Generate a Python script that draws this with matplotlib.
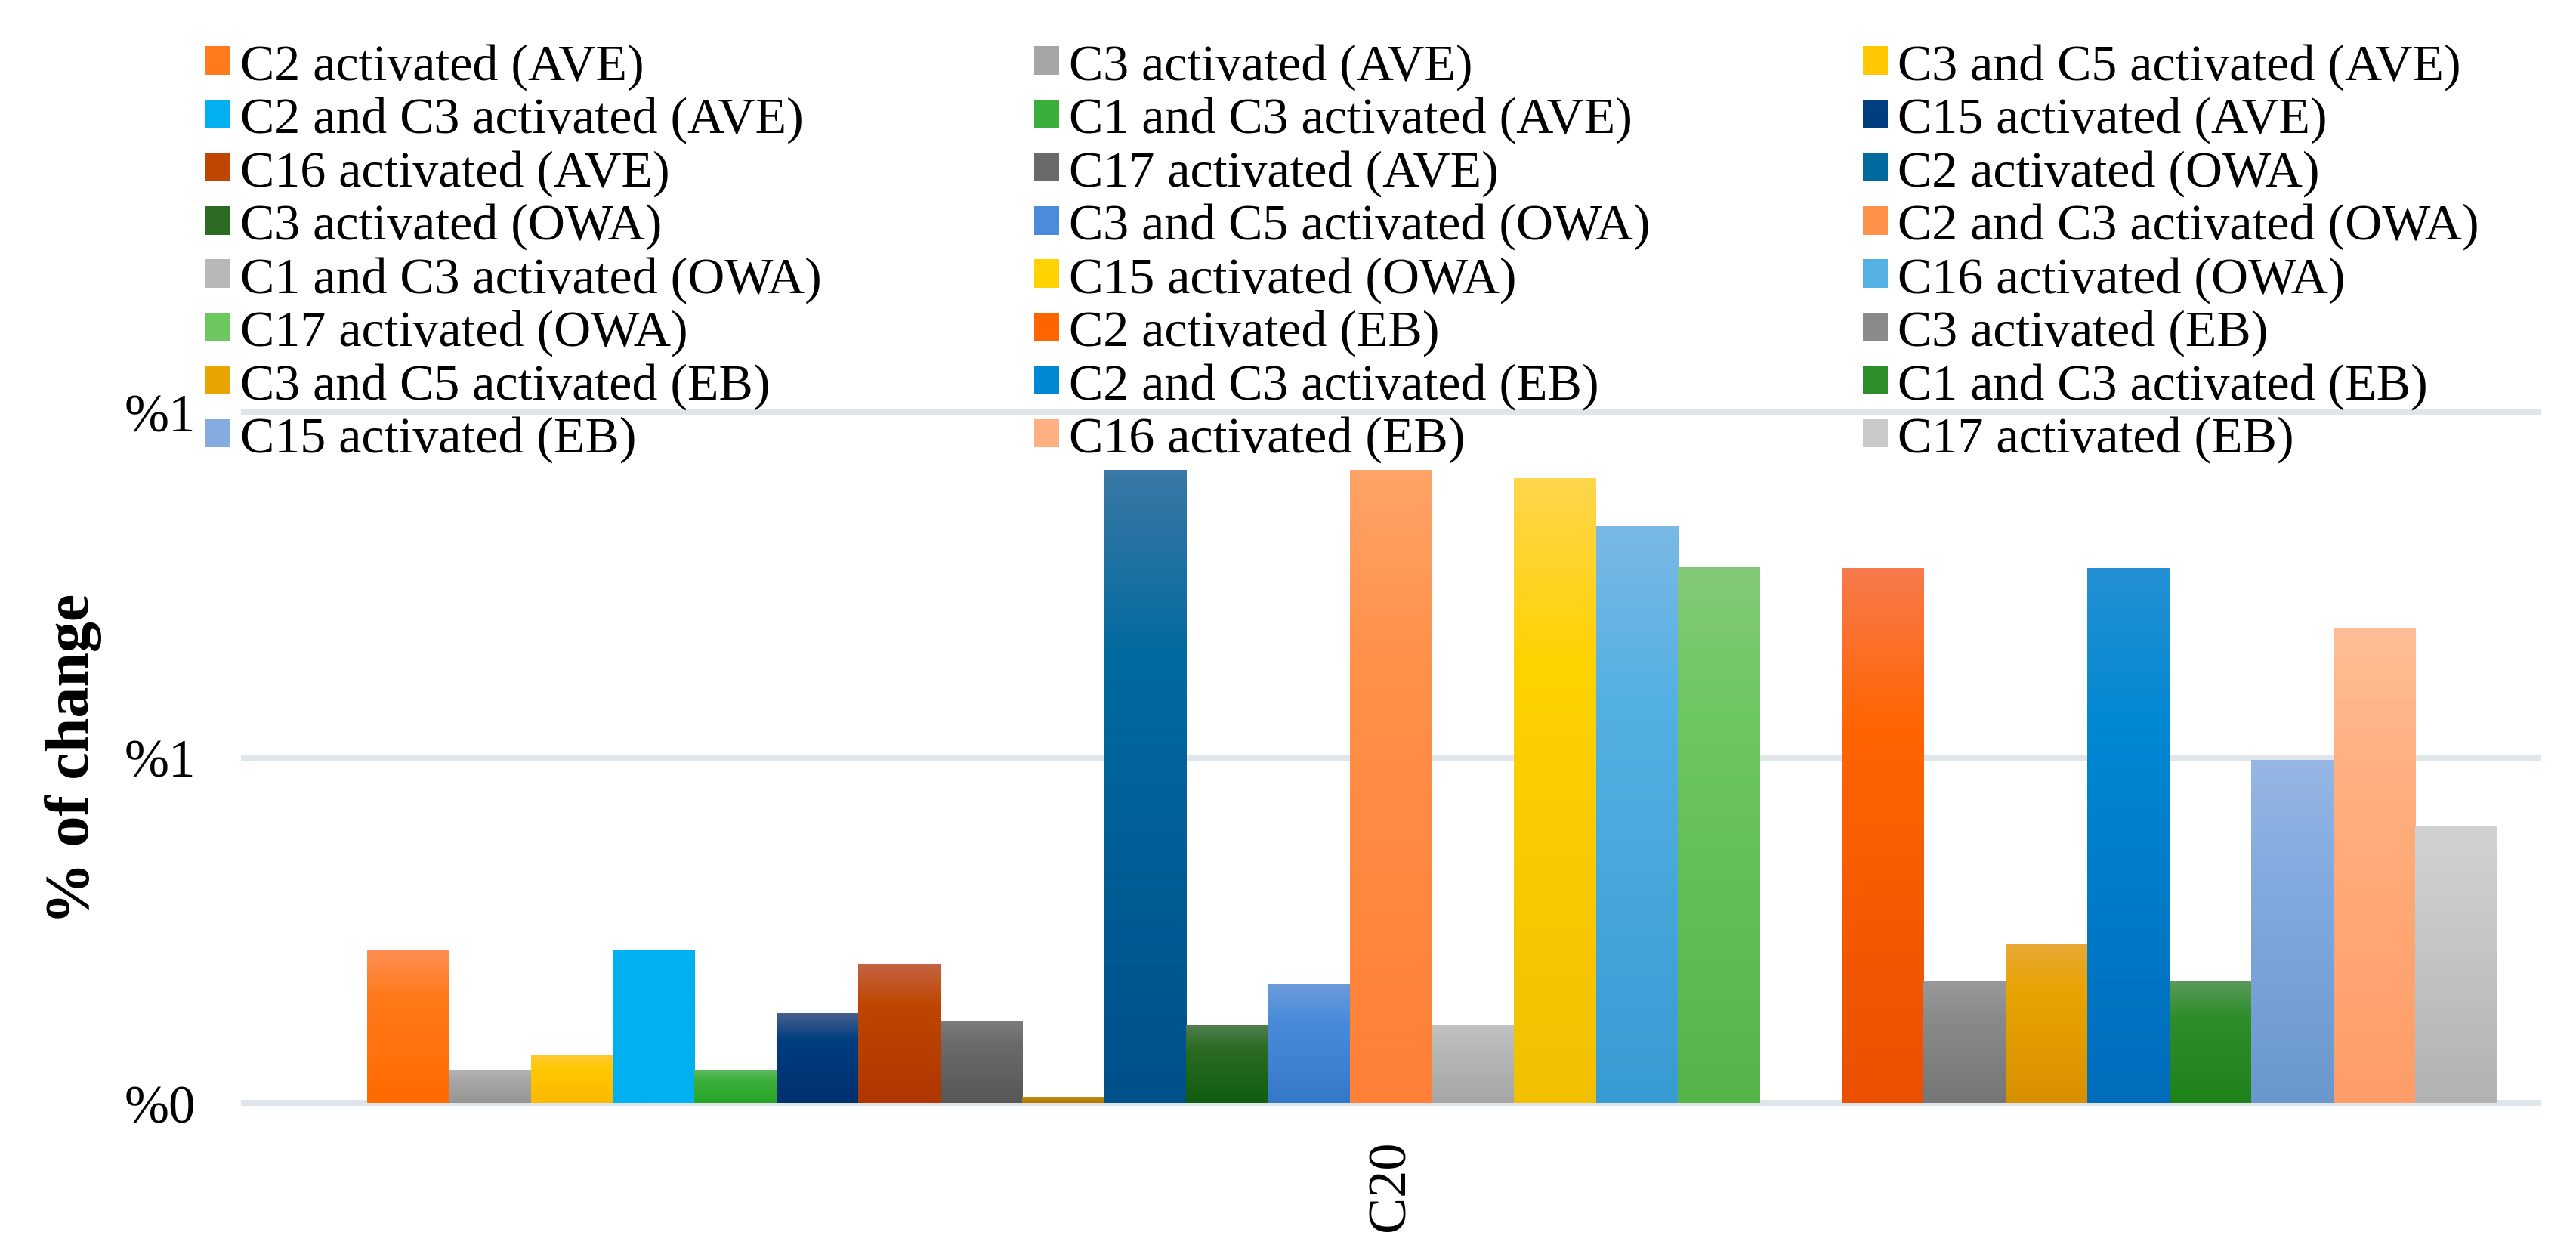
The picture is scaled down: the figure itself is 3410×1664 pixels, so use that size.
import numpy as np
import matplotlib.pyplot as plt
from matplotlib.colors import LinearSegmentedColormap
from matplotlib.patches import Patch

plt.rcParams['font.family'] = ['Liberation Serif', 'DejaVu Serif']

# Data: one category, 27 series (three unlabelled ones have no legend entry)
category = 'C20'
series_labels = [
    '',
    'C2 activated (AVE)', 'C3 activated (AVE)', 'C3 and C5 activated (AVE)',
    'C2 and C3 activated (AVE)', 'C1 and C3 activated (AVE)', 'C15 activated (AVE)',
    'C16 activated (AVE)', 'C17 activated (AVE)',
    '',
    'C2 activated (OWA)', 'C3 activated (OWA)', 'C3 and C5 activated (OWA)',
    'C2 and C3 activated (OWA)', 'C1 and C3 activated (OWA)', 'C15 activated (OWA)',
    'C16 activated (OWA)', 'C17 activated (OWA)',
    '',
    'C2 activated (EB)', 'C3 activated (EB)', 'C3 and C5 activated (EB)',
    'C2 and C3 activated (EB)', 'C1 and C3 activated (EB)', 'C15 activated (EB)',
    'C16 activated (EB)', 'C17 activated (EB)',
]
series_values = [
    0.0,
    0.221, 0.047, 0.068, 0.221, 0.047, 0.130, 0.201, 0.119,
    0.008,
    0.916, 0.112, 0.171, 0.916, 0.112, 0.904, 0.835, 0.776,
    0.0,
    0.774, 0.177, 0.230, 0.774, 0.177, 0.496, 0.688, 0.401,
]
y_ticks = [0, 0.5, 1.0]
y_tick_labels = ['%0', '%1', '%1']

# gradient colours for each bar (top / middle / bottom)
grad_top = ['#FFFFFF',
            '#FF8F55', '#B2B2B2', '#FFC933', '#00B0F0', '#5FBA5F', '#475F8C', '#C46442', '#7C7C7C',
            '#C8901A',
            '#3A78A6', '#4F7F4F', '#6C9ADA', '#FFA368', '#C2C2C2', '#FFD64C', '#79B9E6', '#85C97A',
            '#FFFFFF',
            '#F87A4C', '#9A9A9A', '#E8A838', '#2590D5', '#5A9A5A', '#98B6E4', '#FFBE96', '#D2D2D2']
grad_mid = ['#FFFFFF',
            '#FF7A1A', '#A6A6A6', '#FFC800', '#00B0F0', '#3BAF3B', '#003E80', '#BE4600', '#6A6A6A',
            '#BC8408',
            '#006A9F', '#2B6B22', '#4A8CDB', '#FF9149', '#B8B8B8', '#FFD200', '#55B0E3', '#6BC75E',
            '#FFFFFF',
            '#FF6400', '#8A8A8A', '#E8A400', '#0088D2', '#2E8E2A', '#84ACE0', '#FFB080', '#CACACA']
grad_bot = ['#FFFFFF',
            '#FF6A00', '#969696', '#FCB900', '#00B0F0', '#28A428', '#003070', '#AE3700', '#575757',
            '#B07A00',
            '#00508A', '#105E10', '#3479C8', '#FF8036', '#A6A6A6', '#F2C000', '#379CD2', '#55B449',
            '#FFFFFF',
            '#EB5000', '#767676', '#D99000', '#006CBC', '#1E821A', '#6A98CC', '#FF9D68', '#B2B2B2']

fig = plt.figure(figsize=(34.1, 16.65), dpi=100)
ax = fig.add_axes([0.0947, 0.1225, 0.8906, 0.549])

x = np.arange(len(series_values))
bars = ax.bar(x, series_values, width=1.0, color='none', edgecolor='none', zorder=2)

# vertical gradient fill inside each bar
grad = np.linspace(0, 1, 256).reshape(-1, 1)
for b, top, mid, bot in zip(bars, grad_top, grad_mid, grad_bot):
    h = b.get_height()
    if h <= 0:
        continue
    cmap = LinearSegmentedColormap.from_list('g', [(0, bot), (0.7, mid), (1, top)])
    ax.imshow(grad, cmap=cmap, origin='lower', aspect='auto', interpolation='bilinear',
              extent=[b.get_x(), b.get_x() + b.get_width(), 0, h], zorder=2)

ax.set_xlim(-1, len(x))
ax.set_ylim(0, 1)

# grid lines
for yv in y_ticks:
    ax.axhline(yv, color='#DFE5EA', linewidth=5.8, zorder=1, clip_on=False)

for s in ax.spines.values():
    s.set_visible(False)

ax.set_yticks(y_ticks)
ax.set_yticklabels(y_tick_labels)
ax.set_xticks([(len(x) - 1) / 2])
ax.set_xticklabels([category], rotation=90)
ax.tick_params(axis='y', length=0, labelsize=51, pad=46)
ax.tick_params(axis='x', length=0, labelsize=52, pad=35)

ax.set_ylabel('% of change', fontsize=59, fontweight='bold')
ax.yaxis.set_label_coords(-0.0744, 0.5)
ax.yaxis.label.set_va('center')

# legend: 3 columns, filled row by row
handles = [Patch(facecolor=m, edgecolor='none', label=l)
           for l, m in zip(series_labels, grad_mid) if l]
col_x = [272 / 3410, 1369 / 3410, 2466 / 3410]
for c in range(3):
    fig.legend(handles=handles[c::3], loc='upper left',
               bbox_to_anchor=(col_x[c], 1 - 58 / 1665), bbox_transform=fig.transFigure,
               frameon=False, fontsize=49, borderpad=0, borderaxespad=0,
               handlelength=0.48, handleheight=0.48, handletextpad=0.19,
               labelspacing=0.125)

fig.savefig('out.png', dpi=100)
